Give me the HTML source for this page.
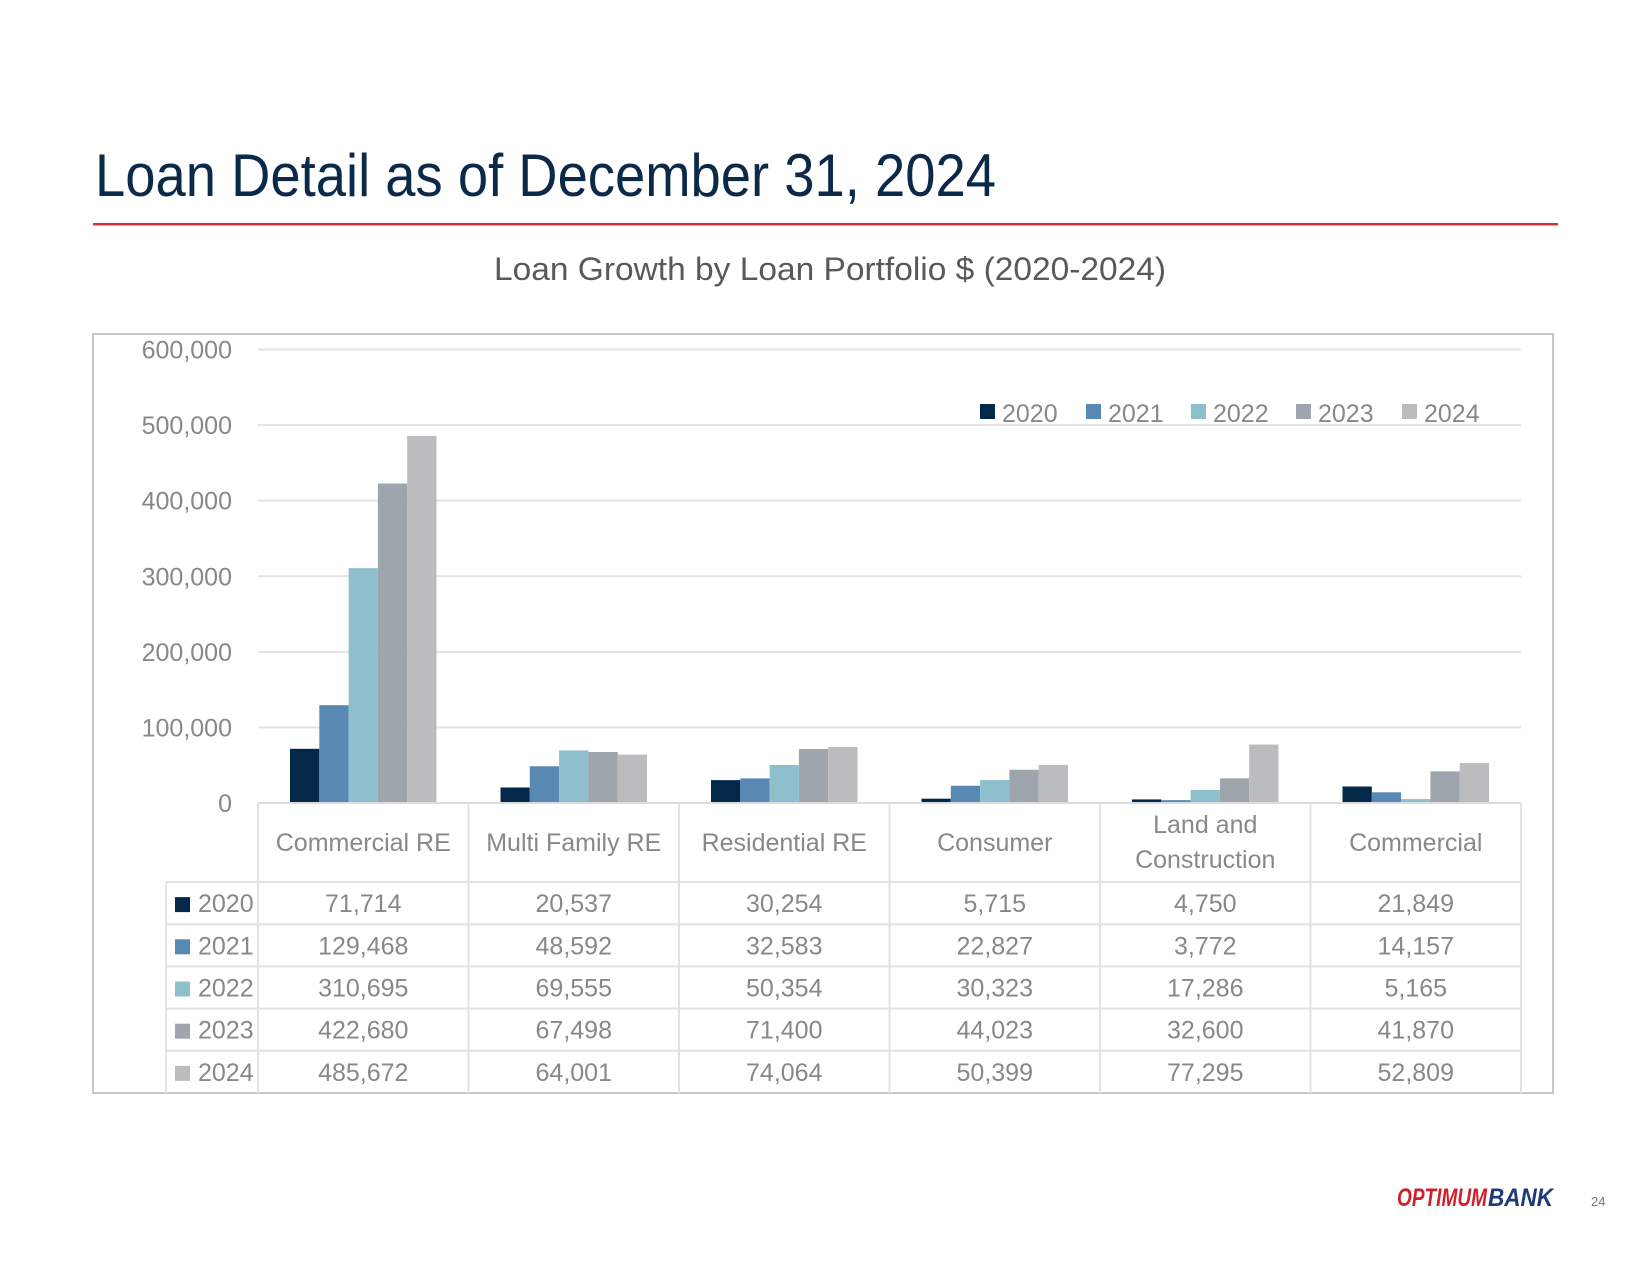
<!DOCTYPE html>
<html><head><meta charset="utf-8"><style>
html,body{margin:0;padding:0;background:#fff;}
svg{display:block;font-family:"Liberation Sans",sans-serif;}
</style></head><body>
<svg id="chart" width="1650" height="1275" viewBox="0 0 1650 1275" xmlns="http://www.w3.org/2000/svg">
<text x="95" y="196" font-size="60" fill="#0b2a4a" textLength="901" lengthAdjust="spacingAndGlyphs">Loan Detail as of December 31, 2024</text>
<rect x="93" y="223" width="1465" height="2.5" fill="#d3303f"/>
<text x="494" y="280" font-size="32" fill="#595959" textLength="672" lengthAdjust="spacingAndGlyphs">Loan Growth by Loan Portfolio $ (2020-2024)</text>
<rect x="93" y="334" width="1460" height="759" fill="none" stroke="#c8c8c8" stroke-width="2"/>
<g id="grid"></g><g id="bars"></g><g id="legend"></g><g id="table"></g>
<text x="1397" y="1206" font-size="25" font-weight="bold" font-style="italic" fill="#d0202e" textLength="90" lengthAdjust="spacingAndGlyphs">OPTIMUM</text>
<text x="1488" y="1206" font-size="25" font-weight="bold" font-style="italic" fill="#1f3a78" textLength="65" lengthAdjust="spacingAndGlyphs">BANK</text>
<text x="1591" y="1206" font-size="13" fill="#777">24</text>
</svg>
<script>
const categories = [["Commercial RE"],["Multi Family RE"],["Residential RE"],["Consumer"],["Land and","Construction"],["Commercial"]];
const years = ["2020","2021","2022","2023","2024"];
const colors = ["#03284a","#5889b5","#8dc0cc","#9ea5ad","#bbbcbe"];
const s2020 = [71714,20537,30254,5715,4750,21849];
const s2021 = [129468,48592,32583,22827,3772,14157];
const s2022 = [310695,69555,50354,30323,17286,5165];
const s2023 = [422680,67498,71400,44023,32600,41870];
const s2024 = [485672,64001,74064,50399,77295,52809];
const yTicks = [0,100000,200000,300000,400000,500000,600000];
const series = [s2020,s2021,s2022,s2023,s2024];

const NS="http://www.w3.org/2000/svg";
const X0=258, X1=1521, Y0=803, Y1=349.5, YMAX=600000;
const catW=(X1-X0)/categories.length, barW=29.3;
const yS=v=>Y0-(v/YMAX)*(Y0-Y1);
const xC=i=>X0+i*catW;
function mk(tag,attrs,parent,text){const e=document.createElementNS(NS,tag);for(const k in attrs)e.setAttribute(k,attrs[k]);if(text!=null)e.textContent=text;parent.appendChild(e);return e;}
const fmt=v=>v.toLocaleString('en-US');
const grid=document.getElementById('grid'),bars=document.getElementById('bars'),leg=document.getElementById('legend'),tbl=document.getElementById('table');
yTicks.forEach(t=>{
  if(t>0){const l=mk('line',{x1:X0,x2:X1,y1:yS(t),y2:yS(t),stroke:'#e3e3e3','stroke-width':2},grid);
  
  }
  const tx=mk('text',{x:232,y:yS(t)+9,'font-size':25,fill:'#888','text-anchor':'end'},grid,fmt(t));
  
  
});
series.forEach((s,j)=>s.forEach((v,i)=>{
  const x=xC(i)+(catW-5*barW)/2+j*barW;
  const r=mk('rect',{x:x,y:yS(v),width:barW,height:Y0-yS(v),fill:colors[j]},bars);
  
  
}));
const legX=[980,1086,1191,1296,1402];
years.forEach((y,j)=>{
  const r=mk('rect',{x:legX[j],y:404,width:15,height:15,fill:colors[j]},leg);
  
  
  const t=mk('text',{x:legX[j]+22,y:422,'font-size':25,fill:'#888'},leg,y);
  
  
});
const HT=803, HB=882, RH=42.2, TL=166;
const st={stroke:'#e3e3e3','stroke-width':2};
const ax=mk('line',{x1:X0,x2:X1,y1:HT,y2:HT,stroke:'#dcdcdc','stroke-width':2},tbl);


for(let i=0;i<=categories.length;i++){
  const l=mk('line',Object.assign({x1:xC(i),x2:xC(i),y1:HT,y2:HB+5*RH},st),tbl);
  
  
}
const lv=mk('line',Object.assign({x1:TL,x2:TL,y1:HB,y2:HB+5*RH},st),tbl);


for(let r=0;r<5;r++){
  const l=mk('line',Object.assign({x1:TL,x2:X1,y1:HB+r*RH,y2:HB+r*RH},st),tbl);
  
  
}
categories.forEach((c,i)=>{
  const cx=xC(i)+catW/2;
  const ys=c.length===1?[851]:[833,868];
  c.forEach((ln,k)=>{
    const t=mk('text',{x:cx,y:ys[k],'font-size':25,fill:'#888','text-anchor':'middle'},tbl,ln);
    
    
  });
});
series.forEach((s,j)=>{
  const yb=HB+j*RH+RH/2+9;
  const sw=mk('rect',{x:175,y:yb-15,width:15,height:15,fill:colors[j]},tbl);
  
  
  const yt=mk('text',{x:198,y:yb,'font-size':25,fill:'#888'},tbl,years[j]);
  
  
  s.forEach((v,i)=>{
    const t=mk('text',{x:xC(i)+catW/2,y:yb,'font-size':25,fill:'#888','text-anchor':'middle'},tbl,fmt(v));
    
    
  });
});
</script>
</body></html>
